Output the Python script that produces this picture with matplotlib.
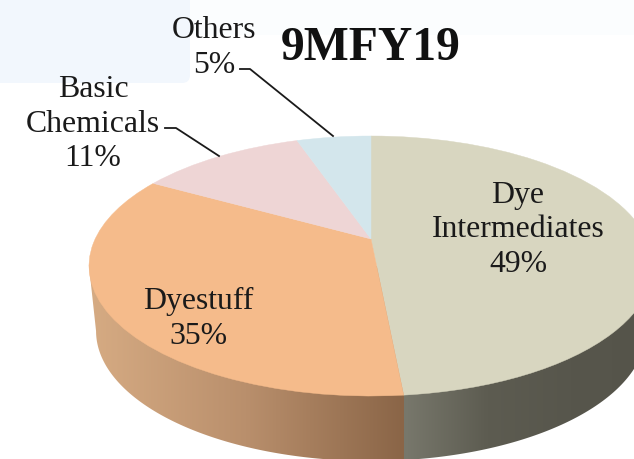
import numpy as np
import matplotlib
matplotlib.use('Agg')
import matplotlib.pyplot as plt
from matplotlib.colors import LinearSegmentedColormap
from matplotlib.patches import FancyBboxPatch, Polygon
from matplotlib.transforms import Transform

plt.rcParams['font.family'] = ['Liberation Serif', 'DejaVu Serif']

# slice sizes, labels as printed
names = ['Dye\nIntermediates\n49%', 'Dyestuff\n35%', 'Basic\nChemicals\n11%', 'Others\n5%']
values = [48.5, 34.7, 11.6, 5.2]
colors = ['#d8d6c0', '#f5bb8b', '#eed5d5', '#d3e6ec']
title = '9MFY19'

label_pos = [(518, 230), (198, 319), (93, 124), (214, 48)]
leaders = [[(240, 70), (250, 70), (333, 137)], [(165, 129), (176, 129), (219, 157)]]

# apex of the pie and perspective of the tilted disc, in pixels
APEX_X, APEX_Y = 371, 240
TOP_RY, BOTTOM_RY = 103, 157
RX = 282
K = (BOTTOM_RY - TOP_RY) / (BOTTOM_RY + TOP_RY)
DEPTH = 65


class TiltTransform(Transform):
    input_dims = 2
    output_dims = 2
    is_separable = False
    has_inverse = False

    def transform_non_affine(self, xy):
        xy = np.asarray(xy, dtype=float)
        w = 1 + K * xy[:, 1]
        x = APEX_X + RX * np.sqrt(1 - K ** 2) * xy[:, 0] / w
        y = APEX_Y - TOP_RY * (1 + K) * xy[:, 1] / w
        return np.column_stack([x, y])


fig = plt.figure(figsize=(6.34, 4.6), dpi=100)
ax = fig.add_axes([0, 0, 1, 1])

wedges, _ = ax.pie(values, colors=colors, startangle=90, counterclock=False,
                   wedgeprops=dict(linewidth=0.3, zorder=3))
for i in range(len(wedges)):
    wedges[i].set_edgecolor(colors[i])
    wedges[i].set_transform(TiltTransform() + ax.transData)

# washed out blue panels behind the chart
ax.add_patch(FancyBboxPatch((-20, -20), 210, 104, boxstyle='round,pad=0,rounding_size=8',
                            fc='#f2f7fd', ec='none', zorder=0))
ax.add_patch(FancyBboxPatch((190, -20), 470, 56, boxstyle='round,pad=0,rounding_size=8',
                            fc='#fbfdfe', ec='none', zorder=0))

# side wall, split where the first slice ends on the front edge
first_end = 2 * np.pi * values[0] / sum(values)
split_x = TiltTransform().transform_non_affine(np.array([[np.sin(first_end), np.cos(first_end)]]))[0, 0]

cy = APEX_Y + (BOTTOM_RY - TOP_RY) / 2
ry = (BOTTOM_RY + TOP_RY) / 2
phi = np.linspace(np.pi, 2 * np.pi, 200)
wall = np.column_stack([APEX_X + 0.975 * RX * np.cos(phi), cy + DEPTH - ry * np.sin(phi)])
wall = np.vstack([[APEX_X - RX, cy], wall, [APEX_X + RX, cy]])

wall_orange = LinearSegmentedColormap.from_list('wo', ['#d6ab83', '#b98f6c', '#8a6547'])
wall_grey = LinearSegmentedColormap.from_list('wg', ['#78786c', '#5d5c51', '#57564c', '#55544a'])
grad = np.linspace(0, 1, 256).reshape(1, -1)
for cmap, x0, x1 in [(wall_orange, APEX_X - RX, split_x), (wall_grey, split_x, APEX_X + RX)]:
    im = ax.imshow(grad, cmap=cmap, extent=(x0, x1, 470, 200), aspect='auto', zorder=1)
    clip = Polygon(wall, closed=True, transform=ax.transData)
    im.set_clip_path(clip)

ax.set_aspect('auto')
ax.set_xlim(0, 634)
ax.set_ylim(460, 0)
ax.axis('off')

for i in range(len(names)):
    ax.text(label_pos[i][0], label_pos[i][1], names[i], ha='center', va='center', fontsize=22.9,
            color='#1a1a1a', linespacing=1.26, zorder=5)
for pts in leaders:
    ax.plot([p[0] for p in pts], [p[1] for p in pts], color='#1a1a1a', lw=1.3, zorder=5)
ax.text(371, 48, title, ha='center', va='center', fontsize=34.3, fontweight='bold', color='#111111', zorder=5)

fig.savefig('out.png', dpi=100)
